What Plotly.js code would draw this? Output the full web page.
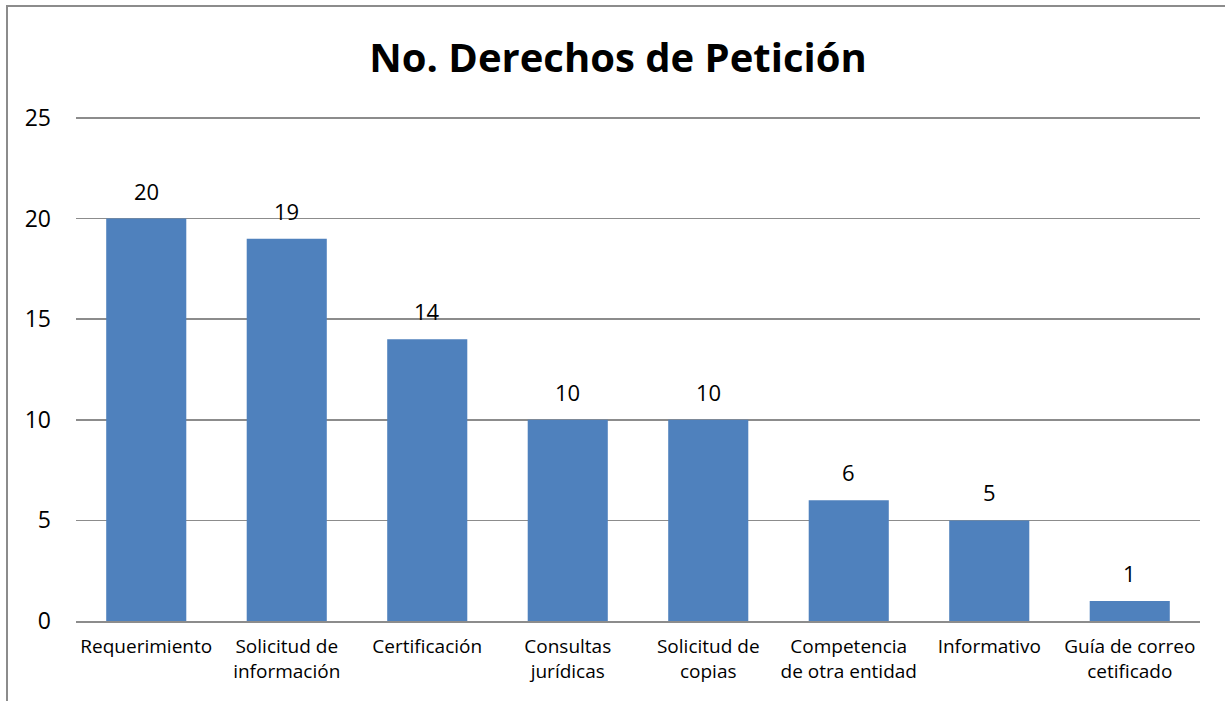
<!DOCTYPE html>
<html>
<head>
<meta charset="utf-8">
<script src="https://cdn.plot.ly/plotly-3.0.1.min.js"></script>
<style>
  html, body { margin: 0; padding: 0; background: #fff; }
  #wrap { position: relative; width: 1225px; height: 701px; overflow: hidden; }
  #frame { position: absolute; left: 6px; top: 5px; width: 1260px; height: 760px; border: 2px solid #8c8c8c; box-sizing: border-box; pointer-events: none; }
  #chart { position: absolute; left: 0; top: 0; width: 1225px; height: 701px; }
</style>
</head>
<body>
<div id="wrap">
  <div id="chart"></div>
  <div id="frame"></div>
</div>
<script>
const categories = [
  "Requerimiento",
  "Solicitud de<br>información",
  "Certificación",
  "Consultas<br>jurídicas",
  "Solicitud de<br>copias",
  "Competencia<br>de otra entidad",
  "Informativo",
  "Guía de correo<br>cetificado"
];
const values = [20, 19, 14, 10, 10, 6, 5, 1];
const yTicks = [0, 5, 10, 15, 20, 25];
const chartTitle = "No. Derechos de Petición";

const FONT = "Open Sans, Liberation Sans, sans-serif";

const trace = {
  type: "bar",
  x: categories,
  y: values,
  marker: { color: "#4F81BD" },
  hoverinfo: "none"
};

const annotations = categories.map((c, i) => ({
  x: c,
  y: values[i],
  xref: "x",
  yref: "y",
  text: String(values[i]),
  showarrow: false,
  yanchor: "bottom",
  yshift: 11,
  font: { family: FONT, size: 22, color: "#000" }
}));

const layout = {
  width: 1225,
  height: 701,
  margin: { l: 76, r: 25, t: 116, b: 80 },
  paper_bgcolor: "rgba(0,0,0,0)",
  plot_bgcolor: "#fff",
  bargap: 0.43,
  showlegend: false,
  title: {
    text: "<b>" + chartTitle + "</b>",
    font: { family: FONT, size: 40, color: "#000" },
    x: 618 / 1225,
    xref: "container",
    xanchor: "center",
    y: 1 - 58 / 701,
    yref: "container",
    yanchor: "middle"
  },
  xaxis: {
    type: "category",
    tickfont: { family: FONT, size: 19, color: "#000" },
    showline: true,
    linecolor: "#8c8c8c",
    linewidth: 1.5,
    ticks: "",
    showgrid: false,
    ticklabelstandoff: 8,
    automargin: false
  },
  yaxis: {
    range: [0, 25.1],
    tickvals: yTicks,
    ticktext: yTicks.map(String),
    tickfont: { family: FONT, size: 23, color: "#000" },
    showgrid: true,
    gridcolor: "#8c8c8c",
    gridwidth: 1.5,
    zeroline: false,
    showline: false,
    ticks: "",
    ticklabelstandoff: 24,
    automargin: false
  },
  annotations: annotations
};

Plotly.newPlot("chart", [trace], layout, { staticPlot: true, displayModeBar: false });
</script>
</body>
</html>
